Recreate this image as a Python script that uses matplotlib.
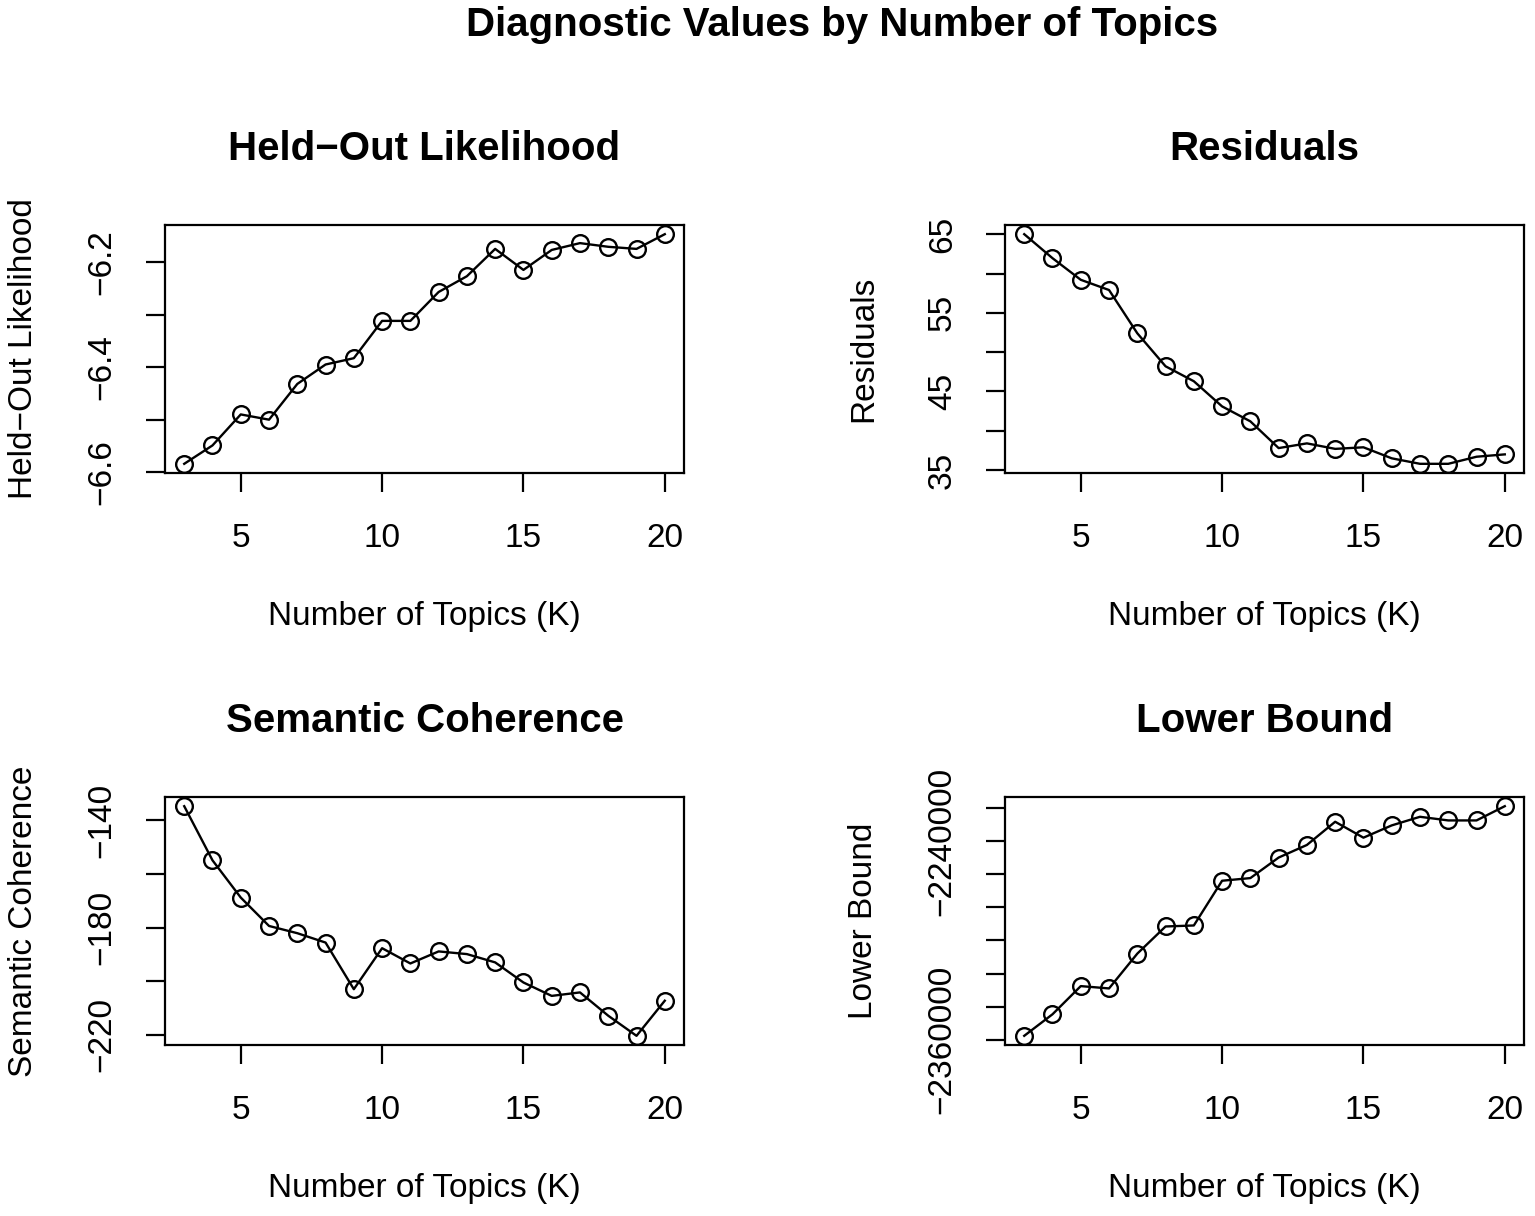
import matplotlib
matplotlib.use("Agg")
import matplotlib.pyplot as plt

plt.rcParams['font.family'] = ['Liberation Sans', 'DejaVu Sans']

topics = list(range(3, 21))

held_out = [-6.584, -6.549, -6.490, -6.500, -6.432, -6.395, -6.383, -6.312, -6.312,
            -6.257, -6.227, -6.175, -6.215, -6.177, -6.164, -6.171, -6.175, -6.147]
residuals = [65.0, 61.95, 59.2, 57.9, 52.4, 48.2, 46.3, 43.1, 41.2,
             37.8, 38.4, 37.7, 37.9, 36.5, 35.8, 35.8, 36.7, 37.0]
sem_coh = [-134.7, -154.9, -168.8, -179.4, -182.1, -185.6, -203.0, -187.7, -193.4,
           -188.9, -189.9, -193.0, -200.5, -205.5, -204.2, -212.9, -220.4, -207.3]
lower_bound = [-2357600, -2344600, -2327600, -2329000, -2308000, -2291600, -2291000,
               -2264000, -2262400, -2250000, -2242400, -2228400, -2238000, -2230600,
               -2225400, -2227600, -2227600, -2219000]

x_ticks = [5, 10, 15, 20]

held_ticks = [-6.6, -6.5, -6.4, -6.3, -6.2]
held_labels = ["\u22126.6", "", "\u22126.4", "", "\u22126.2"]
resid_ticks = [35, 40, 45, 50, 55, 60, 65]
resid_labels = ["35", "", "45", "", "55", "", "65"]
sem_ticks = [-220, -200, -180, -160, -140]
sem_labels = ["\u2212220", "", "\u2212180", "", "\u2212140"]
lb_ticks = [-2360000, -2340000, -2320000, -2300000, -2280000, -2260000, -2240000, -2220000]
lb_labels = ["\u22122360000", "", "", "", "", "", "\u22122240000", ""]


def draw_panel(ax, y, title, ylabel, yticks, ylabels):
    ax.plot(topics, y, color="black", lw=1.7, marker="o", ms=12,
            mfc="none", mec="black", mew=1.7)
    ax.margins(0.04)
    ax.set_xticks(x_ticks)
    ax.set_yticks(yticks)
    ax.set_yticklabels(ylabels, rotation=90, va="center")
    for s in ax.spines.values():
        s.set_linewidth(1.6)
    ax.tick_params(direction="out", length=14, width=1.6, labelsize=24)
    ax.tick_params(axis="x", pad=22)
    ax.tick_params(axis="y", pad=20)
    ax.set_title(title, fontsize=29, fontweight="bold", pad=47)
    ax.set_xlabel("Number of Topics (K)", fontsize=24)
    ax.set_ylabel(ylabel, fontsize=24)
    ax.xaxis.label.set_va("center")
    ax.yaxis.label.set_va("center")
    ax.xaxis.set_label_coords(0.5, -0.58)
    ax.yaxis.set_label_coords(-0.272, 0.5)


fig = plt.figure(figsize=(15.35, 12.16), dpi=100)
w = 519 / 1535
h = 248 / 1216
ax1 = fig.add_axes([165 / 1535, 1 - 473 / 1216, w, h])
ax2 = fig.add_axes([1005 / 1535, 1 - 473 / 1216, w, h])
ax3 = fig.add_axes([165 / 1535, 1 - 1045 / 1216, w, h])
ax4 = fig.add_axes([1005 / 1535, 1 - 1045 / 1216, w, h])

draw_panel(ax1, held_out, "Held\u2212Out Likelihood", "Held\u2212Out Likelihood",
           held_ticks, held_labels)
draw_panel(ax2, residuals, "Residuals", "Residuals", resid_ticks, resid_labels)
draw_panel(ax3, sem_coh, "Semantic Coherence", "Semantic Coherence",
           sem_ticks, sem_labels)
draw_panel(ax4, lower_bound, "Lower Bound", "Lower Bound", lb_ticks, lb_labels)

fig.text(842 / 1535, 1 - 25 / 1216, "Diagnostic Values by Number of Topics",
         fontsize=29, fontweight="bold", ha="center", va="center")

fig.savefig("out.png", dpi=100)
